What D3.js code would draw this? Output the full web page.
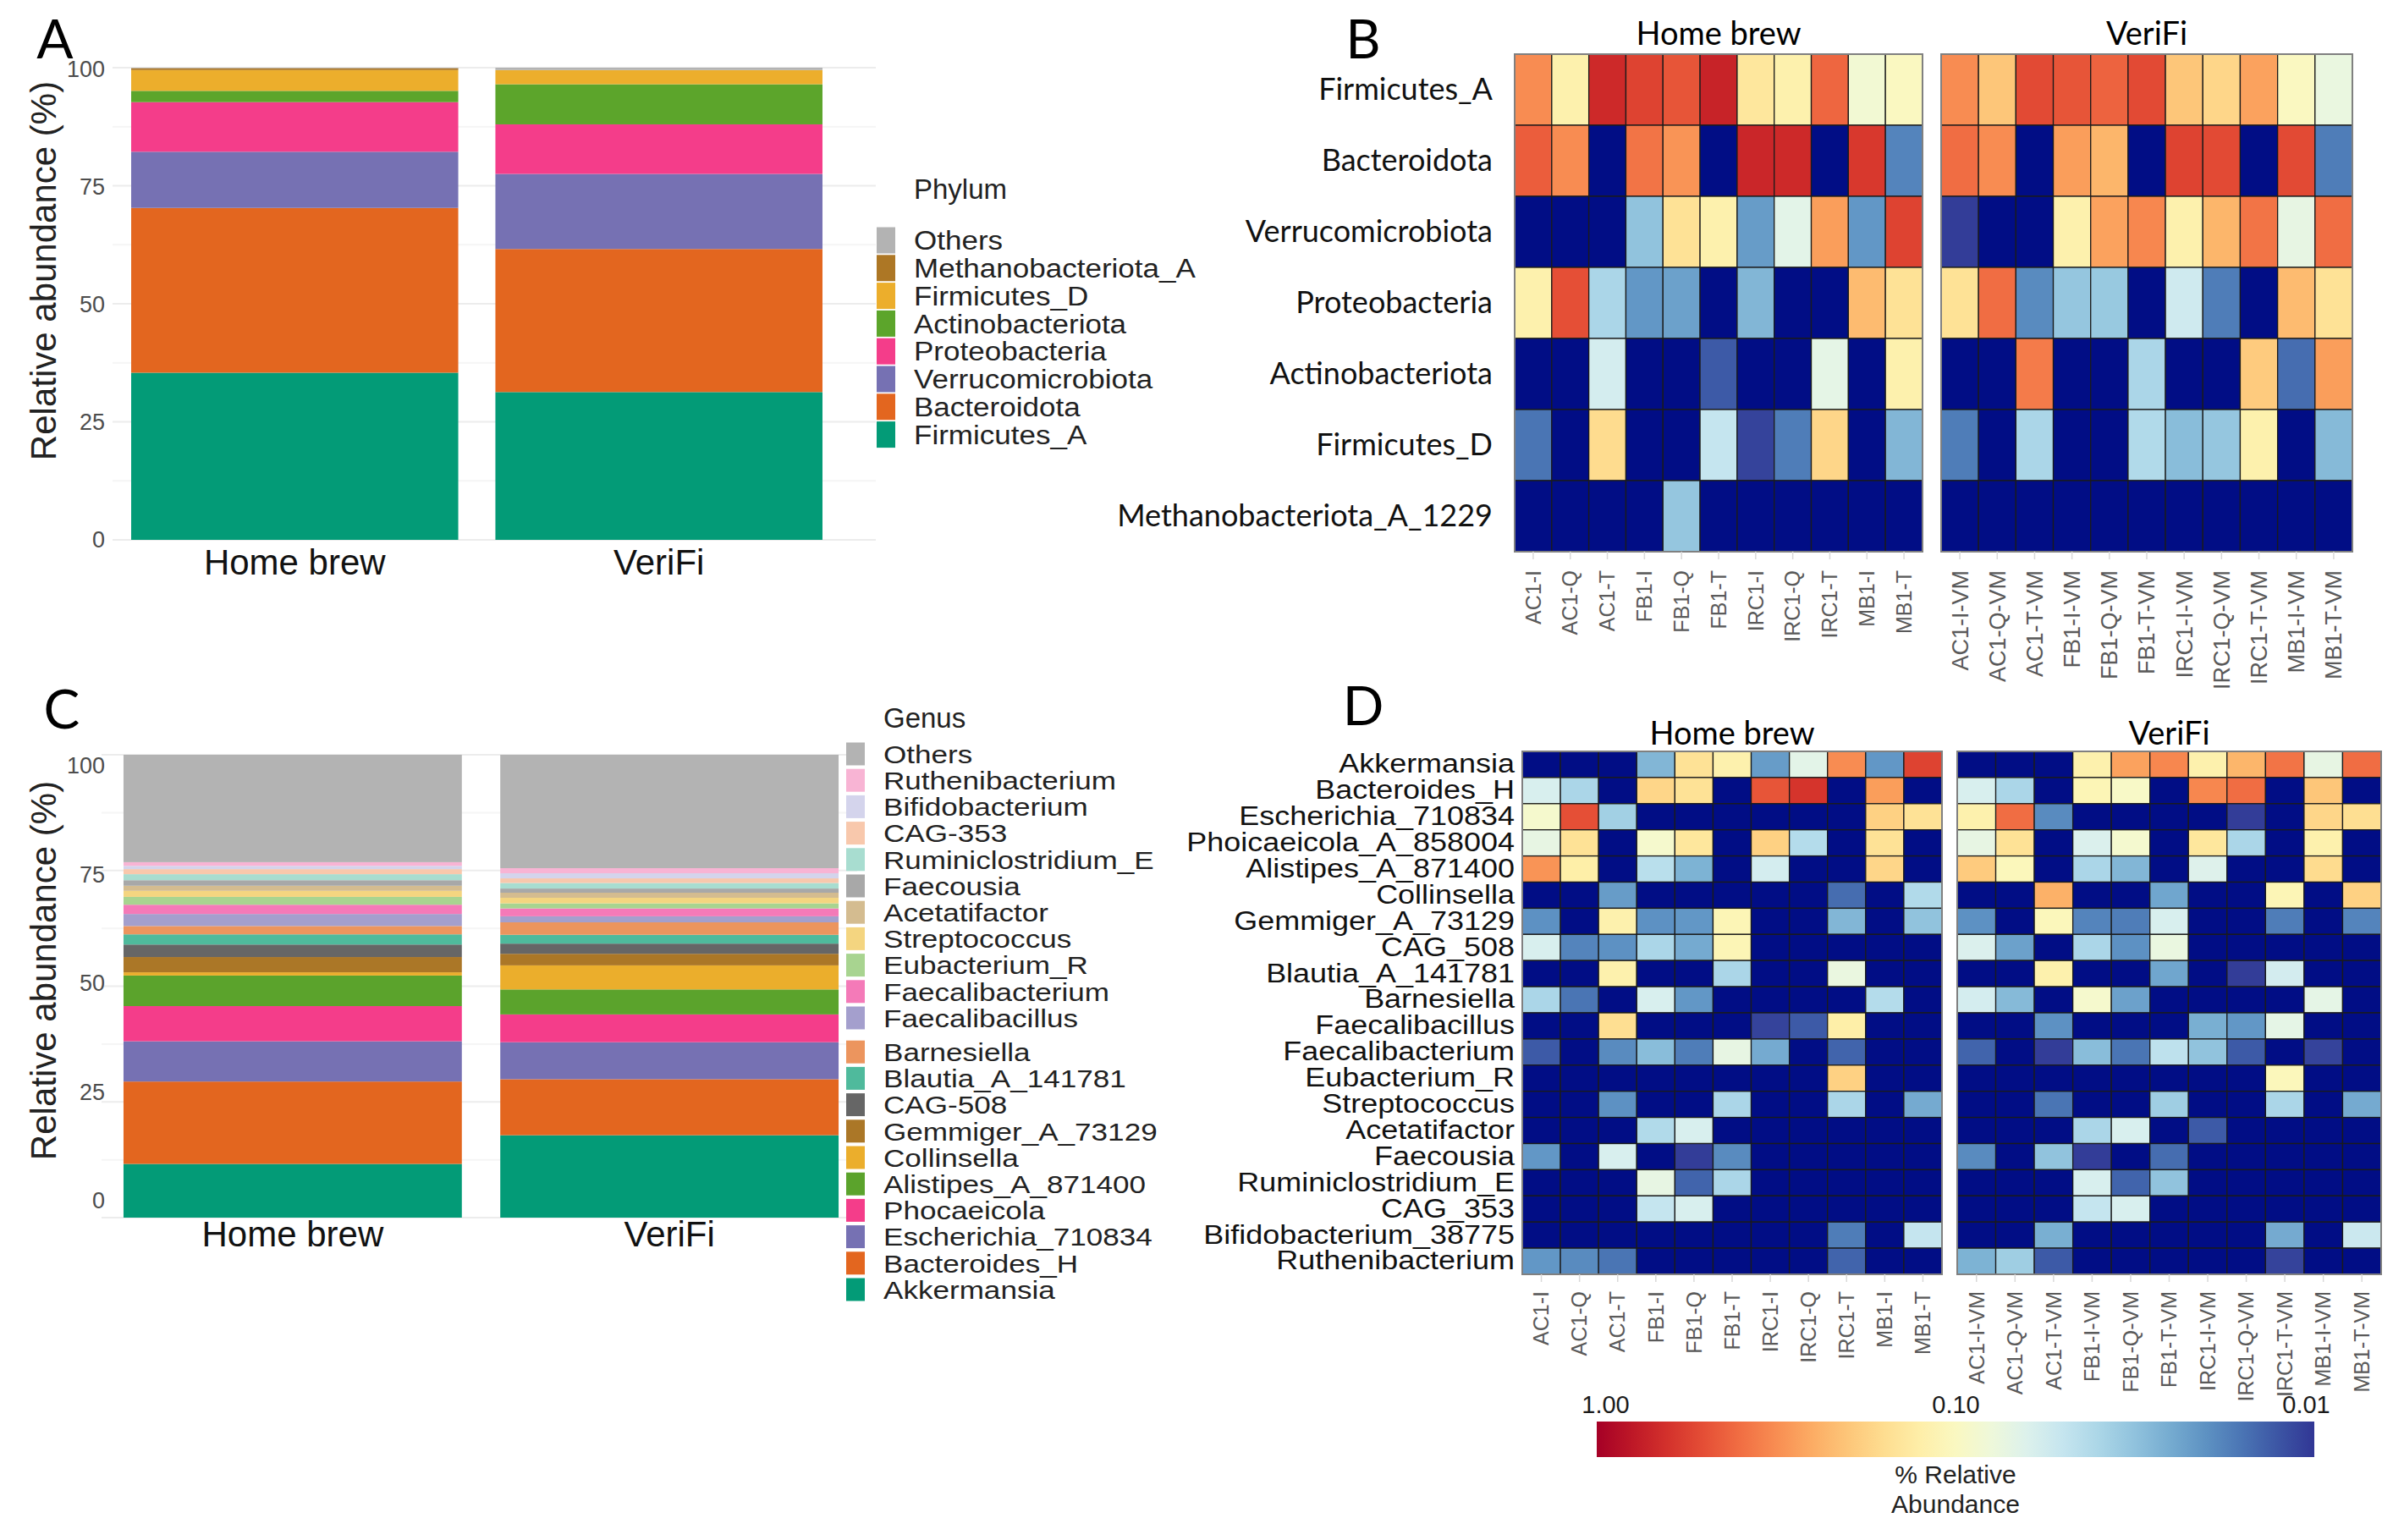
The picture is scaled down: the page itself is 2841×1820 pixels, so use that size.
<!DOCTYPE html>
<html>
<head>
<meta charset="UTF-8">
<title>Phylum and genus composition</title>
<script src="https://cdnjs.cloudflare.com/ajax/libs/d3/7.8.5/d3.min.js"></script>
<style>
  body { margin: 0; background: #fff; }
  svg { display: block; }
</style>
</head>
<body>
<svg id="fig" width="2841" height="1820"></svg>
<script>
// ---------- data ----------
const groups = ["Home brew", "VeriFi"];
const yTicks = [0, 25, 50, 75, 100];

// panel A, stack order bottom -> top
const phyla = ["Firmicutes_A", "Bacteroidota", "Verrucomicrobiota", "Proteobacteria",
  "Actinobacteriota", "Firmicutes_D", "Methanobacteriota_A", "Others"];
const phylumColors = ["#039b77", "#e3661f", "#7671b3", "#f43d8a", "#5ca52b", "#ecae2c", "#ad7725", "#b3b3b3"];
const phylumHomeBrew = [35.4, 34.9, 11.9, 10.5, 2.4, 4.4, 0.4, 0.1];
const phylumVeriFi = [31.3, 30.3, 15.9, 10.5, 8.5, 3.0, 0.0, 0.5];

// panel C, stack order bottom -> top
const genera = ["Akkermansia", "Bacteroides_H", "Escherichia_710834", "Phocaeicola", "Alistipes_A_871400",
  "Collinsella", "Gemmiger_A_73129", "CAG-508", "Blautia_A_141781", "Barnesiella", "Faecalibacillus",
  "Faecalibacterium", "Eubacterium_R", "Streptococcus", "Acetatifactor", "Faecousia",
  "Ruminiclostridium_E", "CAG-353", "Bifidobacterium", "Ruthenibacterium", "Others"];
const genusColors = ["#039b77", "#e3661f", "#7671b3", "#f43d8a", "#5ba32c", "#ebae2c", "#ab7727", "#666666",
  "#4fba9c", "#ec955e", "#a49fcd", "#f47ab8", "#a8d490", "#f4d580", "#d4bc90", "#a8a8a8",
  "#a8ddd0", "#f8c8ac", "#d4d4ec", "#f8b4d4", "#b3b3b3"];
const genusHomeBrew = [11.6, 17.8, 8.7, 7.6, 6.6, 0.7, 3.3, 2.7, 2.2, 1.8, 2.6, 2.0, 1.7, 1.3, 1.1, 1.2, 1.3, 1.1, 0.7, 0.8, 23.2];
const genusVeriFi = [17.8, 12.1, 8.0, 6.0, 5.4, 5.2, 2.5, 2.2, 1.9, 2.7, 1.3, 1.7, 1.1, 1.2, 1.1, 0.9, 1.2, 1.0, 1.1, 1.1, 24.5];

// heatmaps (relative abundance, 0 = not detected)
const samplesHB = ["AC1-I", "AC1-Q", "AC1-T", "FB1-I", "FB1-Q", "FB1-T", "IRC1-I", "IRC1-Q", "IRC1-T", "MB1-I", "MB1-T"];
const samplesVF = ["AC1-I-VM", "AC1-Q-VM", "AC1-T-VM", "FB1-I-VM", "FB1-Q-VM", "FB1-T-VM",
  "IRC1-I-VM", "IRC1-Q-VM", "IRC1-T-VM", "MB1-I-VM", "MB1-T-VM"];

const heatPhyla = ["Firmicutes_A", "Bacteroidota", "Verrucomicrobiota", "Proteobacteria",
  "Actinobacteriota", "Firmicutes_D", "Methanobacteriota_A_1229"];
const phylaHB = [
  [0.32, 0.12, 0.68, 0.55, 0.48, 0.72, 0.14, 0.12, 0.42, 0.085, 0.1],
  [0.45, 0.32, 0, 0.38, 0.3, 0, 0.7, 0.68, 0, 0.6, 0.018],
  [0, 0, 0, 0.032, 0.15, 0.12, 0.022, 0.068, 0.28, 0.021, 0.55],
  [0.12, 0.5, 0.04, 0.021, 0.023, 0, 0.028, 0, 0, 0.22, 0.15],
  [0, 0, 0.058, 0, 0, 0.013, 0, 0, 0.07, 0, 0.12],
  [0.016, 0, 0.16, 0, 0, 0.05, 0.011, 0.017, 0.17, 0, 0.028],
  [0, 0, 0, 0, 0.033, 0, 0, 0, 0, 0, 0]
];
const phylaVF = [
  [0.32, 0.2, 0.52, 0.48, 0.43, 0.52, 0.2, 0.17, 0.27, 0.1, 0.075],
  [0.4, 0.32, 0, 0.28, 0.23, 0, 0.55, 0.52, 0, 0.52, 0.017],
  [0.0105, 0, 0, 0.12, 0.27, 0.33, 0.12, 0.23, 0.38, 0.072, 0.4],
  [0.15, 0.4, 0.019, 0.033, 0.034, 0, 0.055, 0.017, 0, 0.22, 0.15],
  [0, 0, 0.36, 0, 0, 0.04, 0, 0, 0.19, 0.015, 0.28],
  [0.017, 0, 0.04, 0, 0, 0.042, 0.03, 0.033, 0.12, 0, 0.029],
  [0, 0, 0, 0, 0, 0, 0, 0, 0, 0, 0]
];

const heatGenera = ["Akkermansia", "Bacteroides_H", "Escherichia_710834", "Phoicaeicola_A_858004",
  "Alistipes_A_871400", "Collinsella", "Gemmiger_A_73129", "CAG_508", "Blautia_A_141781", "Barnesiella",
  "Faecalibacillus", "Faecalibacterium", "Eubacterium_R", "Streptococcus", "Acetatifactor", "Faecousia",
  "Ruminiclostridium_E", "CAG_353", "Bifidobacterium_38775", "Ruthenibacterium"];
const generaHB = [
  [0, 0, 0, 0.028, 0.15, 0.12, 0.022, 0.068, 0.32, 0.021, 0.55],
  [0.06, 0.04, 0, 0.17, 0.15, 0, 0.48, 0.62, 0, 0.28, 0],
  [0.09, 0.5, 0.037, 0, 0, 0, 0, 0, 0, 0.18, 0.15],
  [0.072, 0.15, 0, 0.09, 0.14, 0, 0.18, 0.043, 0, 0.15, 0],
  [0.3, 0.125, 0, 0.045, 0.027, 0, 0.058, 0, 0, 0.17, 0],
  [0, 0, 0.022, 0, 0, 0, 0, 0, 0.015, 0, 0.042],
  [0.02, 0, 0.12, 0.02, 0.021, 0.11, 0, 0, 0.028, 0, 0.032],
  [0.06, 0.018, 0.02, 0.04, 0.025, 0.11, 0, 0, 0, 0, 0],
  [0, 0, 0.12, 0, 0, 0.04, 0, 0, 0.075, 0, 0],
  [0.04, 0.016, 0, 0.06, 0.021, 0, 0, 0, 0, 0.043, 0],
  [0, 0, 0.155, 0, 0, 0, 0.011, 0.013, 0.125, 0, 0],
  [0.013, 0, 0.019, 0.03, 0.017, 0.072, 0.025, 0, 0.014, 0, 0],
  [0, 0, 0, 0, 0, 0, 0, 0, 0.18, 0, 0],
  [0, 0, 0.02, 0, 0, 0.04, 0, 0, 0.04, 0, 0.025],
  [0, 0, 0, 0.042, 0.06, 0, 0, 0, 0, 0, 0],
  [0.021, 0, 0.06, 0, 0.0105, 0.019, 0, 0, 0, 0, 0],
  [0, 0, 0, 0.072, 0.014, 0.04, 0, 0, 0, 0, 0],
  [0, 0, 0, 0.05, 0.06, 0, 0, 0, 0, 0, 0],
  [0, 0, 0, 0, 0, 0, 0, 0, 0.017, 0, 0.05],
  [0.021, 0.019, 0.016, 0, 0, 0, 0, 0, 0.014, 0, 0]
];
const generaVF = [
  [0, 0, 0, 0.12, 0.27, 0.33, 0.12, 0.23, 0.38, 0.072, 0.4],
  [0.06, 0.04, 0, 0.11, 0.095, 0, 0.33, 0.4, 0, 0.2, 0],
  [0.12, 0.4, 0.019, 0, 0, 0, 0, 0.0105, 0, 0.17, 0.155],
  [0.072, 0.15, 0, 0.062, 0.088, 0, 0.14, 0.04, 0, 0.12, 0],
  [0.19, 0.105, 0, 0.04, 0.028, 0, 0.064, 0, 0, 0.16, 0],
  [0, 0, 0.24, 0, 0, 0.024, 0, 0, 0.11, 0, 0.18],
  [0.02, 0, 0.105, 0.018, 0.017, 0.06, 0, 0, 0.017, 0, 0.018],
  [0.062, 0.023, 0, 0.04, 0.02, 0.075, 0, 0, 0, 0, 0],
  [0, 0, 0.12, 0, 0, 0.024, 0, 0.0105, 0.057, 0, 0],
  [0.058, 0.029, 0, 0.09, 0.023, 0, 0, 0, 0, 0.07, 0],
  [0, 0, 0.02, 0, 0, 0, 0.026, 0.021, 0.07, 0, 0],
  [0.014, 0, 0.0105, 0.03, 0.016, 0.047, 0.032, 0.013, 0, 0.011, 0],
  [0, 0, 0, 0, 0, 0, 0, 0, 0.105, 0, 0],
  [0, 0, 0.016, 0, 0, 0.036, 0, 0, 0.04, 0, 0.025],
  [0, 0, 0, 0.04, 0.06, 0, 0.013, 0, 0, 0, 0],
  [0.019, 0, 0.032, 0.0105, 0, 0.015, 0, 0, 0, 0, 0],
  [0, 0, 0, 0.06, 0.014, 0.032, 0, 0, 0, 0, 0],
  [0, 0, 0, 0.05, 0.06, 0, 0, 0, 0, 0, 0],
  [0, 0, 0.026, 0, 0, 0, 0, 0, 0.025, 0, 0.053],
  [0.027, 0.036, 0.013, 0, 0, 0, 0, 0, 0.011, 0, 0]
];

const legendTicks = [1, 0.1, 0.01];

// ---------- drawing ----------
const W = 2841, H = 1820;
const svg = d3.select("#fig");
const defs = svg.append("defs");
svg.append("rect").attr("width", W).attr("height", H).attr("fill", "#fff");

const sansFont = "'Liberation Sans', Arial, sans-serif";
const humanFont = "Lato, 'Open Sans', sans-serif";
const absentColor = "#010d85";

// log colour scale, 1.00 -> red, 0.01 -> blue
const logPos = d3.scaleLog().domain([0.01, 1]).range([1, 0]).clamp(true);
function cellColor(v) {
  return v > 0 ? d3.interpolateRdYlBu(logPos(v)) : absentColor;
}

function panelLetter(txt, x, y) {
  svg.append("text").attr("x", x).attr("y", y).attr("text-anchor", "middle")
    .style("font-family", humanFont).style("font-size", "64px").text(txt);
}

function stackedBars(cfg) {
  const g = svg.append("g");
  const table = groups.map((grp, gi) => {
    const row = { group: grp };
    cfg.keys.forEach((k, i) => row[k] = cfg.series[gi][i]);
    return row;
  });
  const stacked = d3.stack().keys(cfg.keys)(table);
  const x = d3.scaleBand().domain(groups).range(cfg.xRange).paddingInner(0.102).paddingOuter(0.05);
  const y = d3.scaleLinear().domain([0, 100]).range(cfg.yRange);
  const yLab = d3.scaleLinear().domain([0, 100]).range(cfg.labelRange);
  const color = d3.scaleOrdinal().domain(cfg.keys).range(cfg.colors);

  // faint major and minor grid lines
  g.append("g").selectAll("line").data(d3.range(0, 100.1, 12.5)).join("line")
    .attr("x1", cfg.gridX[0]).attr("x2", cfg.gridX[1])
    .attr("y1", d => y(d)).attr("y2", d => y(d))
    .attr("stroke", d => d % 25 === 0 ? "#ececec" : "#f5f5f5").attr("stroke-width", 2);

  g.append("g").selectAll("g").data(stacked).join("g")
    .attr("fill", d => color(d.key))
    .selectAll("rect").data(d => d).join("rect")
    .attr("x", d => x(d.data.group)).attr("width", x.bandwidth())
    .attr("y", d => y(d[1])).attr("height", d => y(d[0]) - y(d[1]));

  const ya = g.append("g").attr("transform", `translate(${cfg.tickX},0)`)
    .call(d3.axisLeft(yLab).tickValues(yTicks).tickSize(0).tickPadding(0));
  ya.select(".domain").remove();
  ya.selectAll("text").style("font-family", sansFont).style("font-size", "27px").attr("fill", "#4d4d4d");

  const xa = g.append("g").attr("transform", `translate(0,${cfg.yRange[0]})`)
    .call(d3.axisBottom(x).tickSize(0).tickPadding(cfg.xPad));
  xa.select(".domain").remove();
  xa.selectAll("text").style("font-family", sansFont).style("font-size", "42px").attr("fill", "#111");

  g.append("text")
    .attr("transform", `translate(51,${cfg.titleY}) rotate(-90)`)
    .attr("text-anchor", "middle").attr("dy", "0.35em")
    .style("font-family", sansFont).style("font-size", "42px").attr("fill", "#222")
    .text("Relative abundance (%)");

  // legend, top item is the last stacked key
  const L = cfg.legend;
  const lg = svg.append("g");
  lg.append("text").attr("x", L.textX).attr("y", L.titleY)
    .style("font-family", sansFont).style("font-size", "33px").attr("fill", "#222")
    .text(L.title);
  const items = cfg.keys.slice().reverse();
  const it = lg.selectAll("g.item").data(items).join("g").attr("class", "item")
    .attr("transform", (d, i) => `translate(${L.textX},${L.itemY(i)})`);
  it.append("rect").attr("x", L.keyX - L.textX).attr("y", -L.keyH / 2)
    .attr("width", 22).attr("height", L.keyH).attr("fill", d => color(d));
  it.append("text").attr("x", 0).attr("dy", "0.36em")
    .attr("transform", `scale(${L.stretch},1)`)
    .style("font-family", sansFont).style("font-size", L.fontSize).attr("fill", "#222")
    .text(d => d);
}

function heatmap(cfg) {
  const g = svg.append("g");
  const y = d3.scaleBand().domain(cfg.rows).range(cfg.yRange);
  cfg.blocks.forEach(b => {
    const x = d3.scaleBand().domain(b.cols).range(b.xRange);
    const cells = [];
    b.values.forEach((row, ri) => row.forEach((v, ci) => cells.push({ r: cfg.rows[ri], c: b.cols[ci], v })));
    g.append("g").selectAll("rect").data(cells).join("rect")
      .attr("x", d => x(d.c)).attr("y", d => y(d.r))
      .attr("width", x.bandwidth()).attr("height", y.bandwidth())
      .attr("fill", d => cellColor(d.v))
      .attr("stroke", "#1b1b1b").attr("stroke-width", 1.3);
    g.append("rect").attr("x", b.xRange[0]).attr("y", cfg.yRange[0])
      .attr("width", b.xRange[1] - b.xRange[0]).attr("height", cfg.yRange[1] - cfg.yRange[0])
      .attr("fill", "none").attr("stroke", "#808080").attr("stroke-width", 2);

    g.append("text").attr("x", (b.xRange[0] + b.xRange[1]) / 2).attr("y", cfg.titleY)
      .attr("text-anchor", "middle").style("font-family", humanFont).style("font-size", "38px")
      .text(b.title);

    const xa = g.append("g").attr("transform", `translate(0,${cfg.yRange[1]})`)
      .call(d3.axisBottom(x).tickSize(9).tickPadding(0));
    xa.select(".domain").remove();
    xa.selectAll("line").attr("stroke", "#d9d9d9").attr("stroke-width", 1.5);
    xa.selectAll("text")
      .attr("transform", "rotate(-90)").attr("x", -cfg.labelPad).attr("y", 0).attr("dy", "0.35em")
      .style("text-anchor", "end").style("font-family", sansFont)
      .style("font-size", b.colFont || cfg.colFont).attr("fill", "#5a5a5a");
    if (cfg.clip) xa.attr("clip-path", `url(#${cfg.clip})`);
  });
  const ya = g.append("g").attr("transform", `translate(${cfg.labelX},0)`)
    .call(d3.axisLeft(y).tickSize(0).tickPadding(0));
  ya.select(".domain").remove();
  ya.selectAll("text").attr("transform", `scale(${cfg.rowStretch},1)`)
    .style("font-family", cfg.rowFamily).style("font-size", cfg.rowFont).attr("fill", "#111");
}

// ---- panel A ----
panelLetter("A", 65, 69);
stackedBars({
  keys: phyla, colors: phylumColors, series: [phylumHomeBrew, phylumVeriFi],
  xRange: [133.5, 993.5], yRange: [638, 80], labelRange: [638, 82],
  gridX: [133, 1035], tickX: 124, xPad: 11, titleY: 320,
  legend: {
    title: "Phylum", titleY: 235, keyX: 1036, textX: 1080, keyH: 31, fontSize: "31px", stretch: 1.13,
    itemY: i => 284 + i * 32.8
  }
});

// ---- panel C ----
panelLetter("C", 73, 861);
stackedBars({
  keys: genera, colors: genusColors, series: [genusHomeBrew, genusVeriFi],
  xRange: [123.7, 1013.3], yRange: [1439, 892], labelRange: [1419, 905],
  gridX: [120, 1013], tickX: 124, xPad: 4, titleY: 1147,
  legend: {
    title: "Genus", titleY: 860, keyX: 1000, textX: 1044, keyH: 27, fontSize: "30px", stretch: 1.17,
    itemY: i => 891 + i * 31.2 + (i >= 11 ? 9 : 0)
  }
});

// ---- panel B ----
// the lower end of most VeriFi sample labels is cut off in the original figure
const clipB = defs.append("clipPath").attr("id", "clipB");
clipB.append("rect").attr("x", 0).attr("y", 0).attr("width", 2650).attr("height", 783);
clipB.append("rect").attr("x", 2650).attr("y", 0).attr("width", W - 2650).attr("height", H);
panelLetter("B", 1611, 69);
heatmap({
  rows: heatPhyla, yRange: [64, 652], labelX: 1764, titleY: 53,
  rowFamily: humanFont, rowFont: "36px", rowStretch: 1, colFont: "25px", labelPad: 22, clip: "clipB",
  blocks: [
    { title: "Home brew", cols: samplesHB, values: phylaHB, xRange: [1790, 2272] },
    { title: "VeriFi", cols: samplesVF, values: phylaVF, xRange: [2294, 2780], colFont: "27px" }
  ]
});

// ---- panel D ----
panelLetter("D", 1611, 857);
heatmap({
  rows: heatGenera, yRange: [888, 1506], labelX: 1790, titleY: 880,
  rowFamily: sansFont, rowFont: "31px", rowStretch: 1.16, colFont: "25px", labelPad: 20, clip: null,
  blocks: [
    { title: "Home brew", cols: samplesHB, values: generaHB, xRange: [1799, 2295] },
    { title: "VeriFi", cols: samplesVF, values: generaVF, xRange: [2313, 2814] }
  ]
});

// ---- colour bar ----
const cbX = d3.scaleLog().domain([1, 0.01]).range([1897, 2725]);
const grad = defs.append("linearGradient").attr("id", "cbar");
d3.range(0, 1.0001, 0.05).forEach(o => {
  grad.append("stop").attr("offset", o).attr("stop-color", cellColor(Math.pow(10, -2 * o)));
});
const cb = svg.append("g");
cb.append("rect").attr("x", cbX(1) - 10).attr("y", 1680)
  .attr("width", cbX(0.01) - cbX(1) + 20).attr("height", 42).attr("fill", "url(#cbar)");
const cba = cb.append("g").attr("transform", "translate(0,1680)")
  .call(d3.axisTop(cbX).tickValues(legendTicks).tickFormat(d3.format(".2f")).tickSize(0).tickPadding(10));
cba.select(".domain").remove();
cba.selectAll("text").style("font-family", sansFont).style("font-size", "29px").attr("fill", "#1a1a1a");
cb.append("text").attr("x", cbX(0.1)).attr("y", 1753).attr("text-anchor", "middle")
  .style("font-family", sansFont).style("font-size", "30px").attr("fill", "#222").text("% Relative");
cb.append("text").attr("x", cbX(0.1)).attr("y", 1788).attr("text-anchor", "middle")
  .style("font-family", sansFont).style("font-size", "30px").attr("fill", "#222").text("Abundance");
</script>
</body>
</html>
